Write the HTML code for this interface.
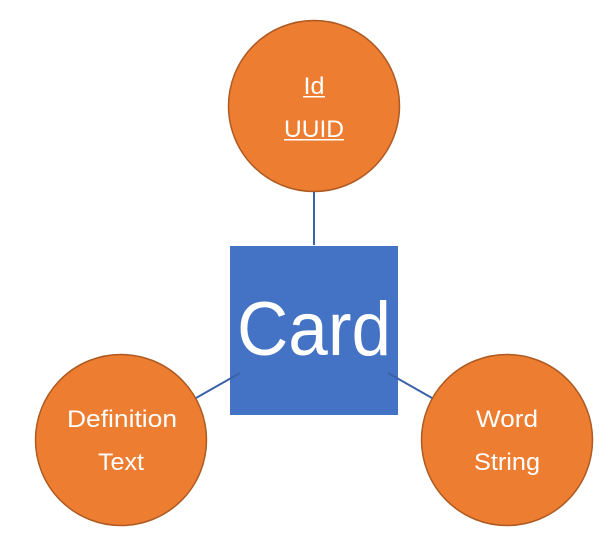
<!DOCTYPE html>
<html><head><meta charset="utf-8"><style>html,body{margin:0;padding:0;background:#fff;}svg{display:block}</style></head>
<body>
<svg width="616" height="555" viewBox="0 0 616 555" xmlns="http://www.w3.org/2000/svg" font-family="'Liberation Sans', sans-serif">
<circle cx="314" cy="106" r="85.5" fill="#ed7d31" stroke="#ae5a21" stroke-width="1.5"/>
<circle cx="121" cy="440" r="85.5" fill="#ed7d31" stroke="#ae5a21" stroke-width="1.5"/>
<circle cx="507" cy="440" r="85.5" fill="#ed7d31" stroke="#ae5a21" stroke-width="1.5"/>
<rect x="230" y="246" width="168" height="169" fill="#4472c4"/>
<line x1="314" y1="192" x2="314" y2="245" stroke="#3a62a8" stroke-width="2"/>
<line x1="196" y1="398" x2="240" y2="373" stroke="#3a62a8" stroke-width="2"/>
<line x1="388" y1="373" x2="432" y2="398" stroke="#3a62a8" stroke-width="2"/>
<text x="314" y="355" text-anchor="middle" font-size="76" fill="#fff" textLength="154" lengthAdjust="spacingAndGlyphs">Card</text>
<g fill="#fff" font-size="24" text-anchor="middle">
<text x="314" y="94" textLength="21" lengthAdjust="spacingAndGlyphs">Id</text>
<text x="314" y="137" textLength="60" lengthAdjust="spacingAndGlyphs">UUID</text>
<text x="122" y="427" textLength="110" lengthAdjust="spacingAndGlyphs">Definition</text>
<text x="121" y="470" textLength="46" lengthAdjust="spacingAndGlyphs">Text</text>
<text x="507" y="427" textLength="62" lengthAdjust="spacingAndGlyphs">Word</text>
<text x="507" y="470" textLength="66" lengthAdjust="spacingAndGlyphs">String</text>
</g>
<rect x="303" y="96" width="22" height="1.5" fill="#fff"/>
<rect x="284" y="139" width="60" height="1.5" fill="#fff"/>
</svg>
</body></html>
